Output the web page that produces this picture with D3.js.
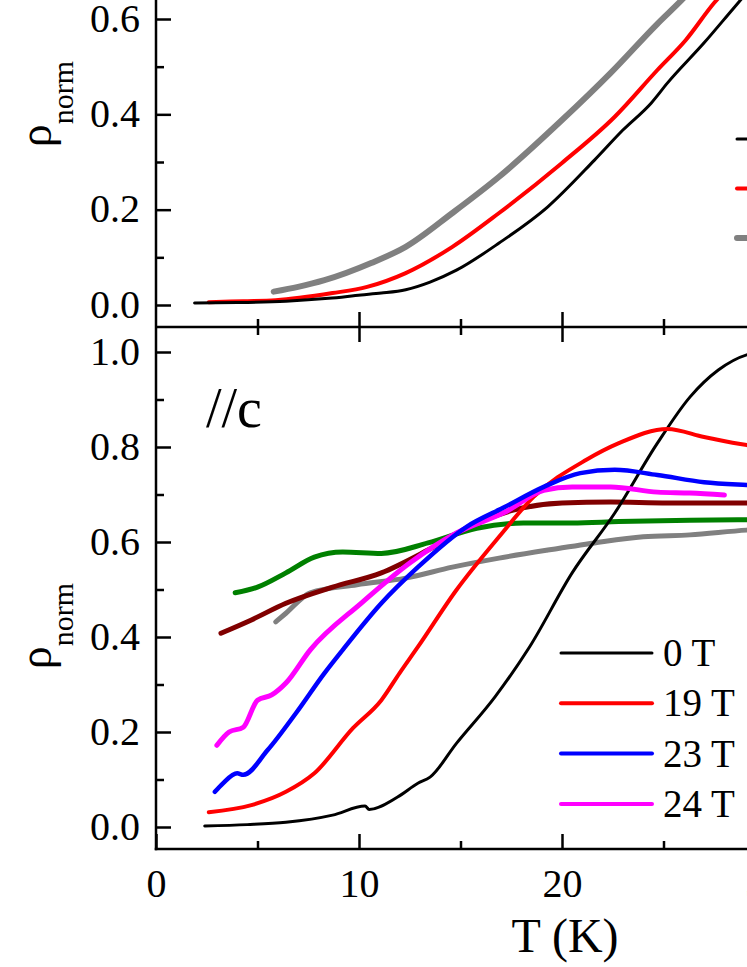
<!DOCTYPE html>
<html><head><meta charset="utf-8">
<script src="https://cdn.jsdelivr.net/npm/d3@7"></script>
<style>html,body{margin:0;padding:0;background:#fff;overflow:hidden}</style>
</head><body>
<script>
// ---------- DATA ----------
// Upper panel (T in K, rho_norm)
const topLabels = ["0 T", "19 T", "24 T"];
const top0T = [[1.9,0.004],[4,0.005],[6.4,0.008],[8.5,0.014],[10.1,0.021],[11.1,0.025],[12.3,0.032],[13.5,0.048],[14.8,0.073],[16.9,0.13],[19.3,0.206],[21.6,0.304],[23.0,0.367],[24.4,0.424],[25.2,0.466],[27.0,0.55],[28.4,0.62],[30.0,0.70]];
const top19T = [[2.6,0.006],[4.3,0.008],[5.9,0.01],[8.7,0.025],[10.4,0.038],[12.3,0.067],[14.6,0.122],[16.9,0.193],[20.0,0.298],[22.6,0.395],[24.7,0.493],[26.1,0.556],[27.5,0.634],[29.0,0.70]];
const top24T = [[5.8,0.028],[7.0,0.038],[8.3,0.052],[10.6,0.088],[12.3,0.122],[14.6,0.193],[16.9,0.269],[20.0,0.388],[22.4,0.487],[24.7,0.59],[25.9,0.64],[27.0,0.69]];

// Lower panel (//c)
const botLabels = ["0 T", "19 T", "23 T", "24 T"];
const bot0T = [[2.4,0.002],[4.5,0.005],[6.4,0.01],[8.7,0.025],[10.3,0.044],[10.5,0.037],[11.9,0.063],[12.9,0.092],[13.5,0.105],[14.8,0.176],[16.7,0.274],[18.4,0.379],[20.5,0.535],[22.6,0.661],[24.7,0.808],[26.3,0.905],[27.7,0.962],[29.1,0.994],[30.0,1.0]];
const bot19T = [[2.6,0.031],[4.7,0.046],[6.4,0.074],[7.8,0.113],[9.7,0.208],[11.1,0.267],[12.0,0.324],[12.9,0.379],[14.8,0.499],[16.9,0.611],[18.6,0.695],[21.2,0.773],[22.8,0.808],[25.2,0.838],[27.0,0.821],[29.1,0.804],[30.0,0.80]];
const bot23T = [[2.9,0.074],[3.3,0.092],[4.0,0.113],[4.3,0.11],[5.5,0.162],[6.9,0.24],[8.3,0.324],[9.2,0.373],[11.1,0.471],[12.9,0.547],[15.3,0.632],[17.2,0.674],[19.1,0.716],[20.9,0.745],[22.6,0.752],[24.7,0.741],[27.0,0.726],[29.1,0.72],[30.0,0.718]];
const bot24T = [[3.0,0.172],[3.6,0.2],[4.3,0.21],[5.0,0.267],[5.7,0.278],[6.4,0.303],[7.6,0.373],[10.1,0.471],[12.5,0.556],[14.8,0.619],[17.2,0.663],[19.1,0.709],[20.5,0.716],[22.4,0.716],[24.7,0.705],[26.3,0.703],[28.0,0.699]];
const botBrown = [[3.2,0.408],[4.7,0.436],[6.4,0.471],[8.7,0.505],[11.1,0.535],[13.4,0.583],[15.8,0.64],[17.6,0.667],[20.0,0.682],[22.4,0.684],[25.2,0.682],[29.1,0.682],[30.0,0.682]];
const botGreen = [[3.9,0.493],[5.0,0.505],[6.4,0.535],[7.8,0.568],[9.2,0.579],[11.1,0.576],[13.4,0.598],[15.8,0.629],[18.1,0.64],[20.5,0.64],[22.8,0.643],[26.3,0.646],[29.1,0.647],[30.0,0.647]];
const botGray = [[5.9,0.432],[6.4,0.45],[7.6,0.493],[9.9,0.51],[12.3,0.524],[14.6,0.547],[16.9,0.566],[19.3,0.583],[21.6,0.598],[24.0,0.611],[26.3,0.615],[29.1,0.625],[30.0,0.627]];

const xMajor = [0, 10, 20, 30];
const xMinor = [5, 15, 25];
const yMajorTop = [0, 0.2, 0.4, 0.6];
const yMajorBot = [0, 0.2, 0.4, 0.6, 0.8, 1.0];
const yMinor = [0.1, 0.3, 0.5, 0.7, 0.9];

// ---------- LAYOUT ----------
const W = 747, H = 967;
const left = 156, right = 800, mid = 327, bottom = 849, topEdge = -200;
const font = "'Liberation Serif','Times New Roman',serif";

const svg = d3.select("body").append("svg").attr("width", W).attr("height", H)
  .style("background", "#fff");

const x = d3.scaleLinear().domain([0, 20]).range([156, 562]);
const yTop = d3.scaleLinear().domain([0, 0.6]).range([305, 19]);
const yBot = d3.scaleLinear().domain([0, 1]).range([827, 352]);

const defs = svg.append("defs");
defs.append("clipPath").attr("id", "clipTop").append("rect")
  .attr("x", left).attr("y", topEdge).attr("width", right - left).attr("height", mid - topEdge);
defs.append("clipPath").attr("id", "clipBot").append("rect")
  .attr("x", left).attr("y", mid).attr("width", right - left).attr("height", bottom - mid);

function drawSeries(data, y, color, width, clip) {
  const line = d3.line().x(d => x(d[0])).y(d => y(d[1])).curve(d3.curveMonotoneX);
  svg.append("path").attr("d", line(data)).attr("fill", "none")
    .attr("stroke", color).attr("stroke-width", width)
    .attr("stroke-linejoin", "round").attr("stroke-linecap", "round")
    .attr("clip-path", `url(#${clip})`);
}

// ---------- AXES (ticks) ----------
function styleAxis(g) {
  g.select(".domain").remove();
  g.selectAll("line").attr("stroke", "#000").attr("stroke-width", 2.5);
  g.selectAll("text").attr("font-family", font).attr("font-size", 40).attr("fill", "#000");
}
[[yTop, yMajorTop], [yBot, yMajorBot]].forEach(([y, vals]) => {
  svg.append("g").attr("transform", `translate(${left},0)`)
    .call(d3.axisLeft(y).tickValues(vals).tickFormat(d3.format(".1f")).tickSize(-15).tickPadding(16))
    .call(styleAxis).selectAll("text").attr("dy", "0.3em");
});
svg.append("g").attr("transform", `translate(${left},0)`)
  .call(d3.axisLeft(yTop).tickValues(yMinor.filter(v => v < 0.6)).tickFormat("").tickSize(-8))
  .call(styleAxis);
svg.append("g").attr("transform", `translate(${left},0)`)
  .call(d3.axisLeft(yBot).tickValues(yMinor).tickFormat("").tickSize(-8))
  .call(styleAxis);

// x axis on bottom
svg.append("g").attr("transform", `translate(0,${bottom})`)
  .call(d3.axisBottom(x).tickValues(xMajor).tickFormat(d3.format("d")).tickSize(-15).tickPadding(20))
  .call(styleAxis);
svg.append("g").attr("transform", `translate(0,${bottom})`)
  .call(d3.axisBottom(x).tickValues(xMinor).tickFormat("").tickSize(-8)).call(styleAxis);
// middle boundary ticks (up for top panel, down for bottom panel)
svg.append("g").attr("transform", `translate(0,${mid})`)
  .call(d3.axisBottom(x).tickValues(xMajor.slice(1)).tickFormat("").tickSize(-15)).call(styleAxis);
svg.append("g").attr("transform", `translate(0,${mid})`)
  .call(d3.axisBottom(x).tickValues(xMinor).tickFormat("").tickSize(-8)).call(styleAxis);
svg.append("g").attr("transform", `translate(0,${mid})`)
  .call(d3.axisTop(x).tickValues(xMajor.slice(1)).tickFormat("").tickSize(-15)).call(styleAxis);
svg.append("g").attr("transform", `translate(0,${mid})`)
  .call(d3.axisTop(x).tickValues(xMinor).tickFormat("").tickSize(-8)).call(styleAxis);

// ---------- SERIES ----------
drawSeries(top24T, yTop, "#808080", 6, "clipTop");
drawSeries(top19T, yTop, "#ff0000", 4, "clipTop");
drawSeries(top0T, yTop, "#000000", 3, "clipTop");

drawSeries(botGray, yBot, "#808080", 5, "clipBot");
drawSeries(botGreen, yBot, "#008000", 5, "clipBot");
drawSeries(botBrown, yBot, "#800000", 5, "clipBot");
drawSeries(bot0T, yBot, "#000000", 3, "clipBot");
drawSeries(bot19T, yBot, "#ff0000", 4, "clipBot");
drawSeries(bot24T, yBot, "#ff00ff", 5, "clipBot");
drawSeries(bot23T, yBot, "#0000ff", 4.5, "clipBot");

// ---------- FRAME LINES ----------
svg.append("line").attr("x1", left).attr("x2", left).attr("y1", topEdge).attr("y2", bottom + 1.25)
  .attr("stroke", "#000").attr("stroke-width", 2.5);
svg.append("line").attr("x1", left).attr("x2", right).attr("y1", mid).attr("y2", mid)
  .attr("stroke", "#000").attr("stroke-width", 2.5);
svg.append("line").attr("x1", left - 1.25).attr("x2", right).attr("y1", bottom).attr("y2", bottom)
  .attr("stroke", "#000").attr("stroke-width", 2.5);

// ---------- LEGENDS ----------
const topColors = ["#000000", "#ff0000", "#808080"];
const topWidths = [3, 4, 6];
const topLeg = svg.append("g");
topLabels.forEach((lab, i) => {
  const yy = 139 + i * 49.5;
  topLeg.append("line").attr("x1", 737).attr("x2", 830).attr("y1", yy).attr("y2", yy)
    .attr("stroke", topColors[i]).attr("stroke-width", topWidths[i]).attr("stroke-linecap", "round");
});
const botColors = ["#000000", "#ff0000", "#0000ff", "#ff00ff"];
const botLeg = svg.append("g");
botLabels.forEach((lab, i) => {
  const yy = 653 + i * 50.3;
  botLeg.append("line").attr("x1", 561).attr("x2", 652).attr("y1", yy).attr("y2", yy)
    .attr("stroke", botColors[i]).attr("stroke-width", i === 0 ? 3 : 4).attr("stroke-linecap", "round");
  botLeg.append("text").attr("x", 663).attr("y", yy + 13).text(lab)
    .attr("font-family", font).attr("font-size", 39).attr("fill", "#000");
});

// ---------- TEXT LABELS ----------
svg.append("text").attr("x", 206).attr("y", 427).text("//c")
  .attr("font-family", font).attr("font-size", 56);

function yLabel(cy) {
  const t = svg.append("text").attr("transform", `translate(51,${cy}) rotate(-90)`)
    .attr("text-anchor", "middle").attr("font-family", font);
  t.append("tspan").attr("font-size", 46).text("ρ");
  t.append("tspan").attr("font-size", 30).attr("dy", 22).text("norm");
}
yLabel(104);
yLabel(626);

svg.append("text").attr("x", 565).attr("y", 952).attr("text-anchor", "middle")
  .attr("font-family", font).attr("font-size", 48).text("T (K)");
</script>
</body></html>
